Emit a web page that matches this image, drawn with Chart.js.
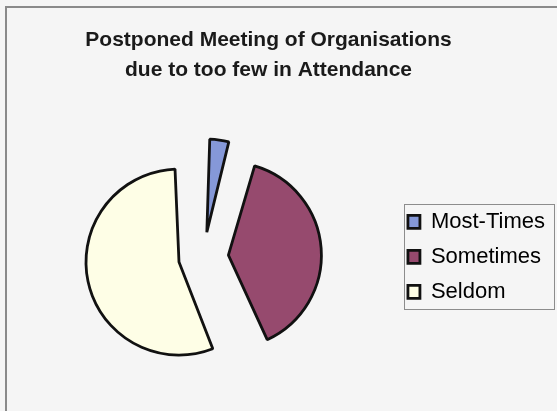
<!DOCTYPE html>
<html>
<head>
<meta charset="utf-8">
<title>Postponed Meeting of Organisations</title>
<script src="https://cdn.jsdelivr.net/npm/chart.js@4.4.0/dist/chart.umd.min.js"></script>
<style>
  html, body { margin: 0; padding: 0; background: #f5f5f5; }
</style>
</head>
<body>
<canvas id="myChart" width="557" height="411"></canvas>
<script>
  // data
  const categories = ['Most-Times', 'Sometimes', 'Seldom'];
  const shares = [4.3, 39.1, 56.6];
  const sliceColors = ['#8598d8', '#964a6e', '#fefee6'];
  const chartTitle = ['Postponed Meeting of Organisations', 'due to too few in Attendance'];

  const PIE_RADIUS = 93;
  const EXPLODE = 100;   // v4 arcs move by offset / 4

  // v4 also grows an exploded arc's radius, put it back so all slices match
  const evenRadius = {
    id: 'evenRadius',
    afterDatasetsUpdate(chart) {
      chart.getDatasetMeta(0).data.forEach(arc => {
        const shift = (arc.options.offset || 0) / 4;
        const fix = 1 - Math.sin(Math.min(Math.PI, arc.circumference));
        arc.outerRadius = PIE_RADIUS - shift * fix;
      });
    }
  };

  // empty box on the left, pushes the pie to the right of the title centre
  // (display:false keeps it out of the legend's max width share)
  const leftSpacer = {
    id: 'leftSpacer',
    beforeInit(chart) {
      Chart.layouts.addBox(chart, {
        position: 'left',
        fullSize: false,
        weight: 100,
        options: { display: false },
        isHorizontal() { return false; },
        update(maxWidth, maxHeight) { this.width = 30; this.height = maxHeight; },
        draw() {}
      });
    }
  };

  // grey page + frame lines
  const frame = {
    id: 'frame',
    beforeDraw(chart) {
      const ctx = chart.ctx;
      ctx.save();
      ctx.fillStyle = '#f5f5f5';
      ctx.fillRect(0, 0, chart.width, chart.height);
      ctx.strokeStyle = '#8a8a8a';
      ctx.lineWidth = 2;
      ctx.beginPath();
      ctx.moveTo(6, chart.height);
      ctx.lineTo(6, 7);
      ctx.lineTo(chart.width, 7);
      ctx.stroke();
      ctx.restore();
    },
    afterDraw(chart) {
      // box round the legend
      const boxes = chart.legend.legendHitBoxes;
      if (!boxes.length) return;
      const first = boxes[0];
      const last = boxes[boxes.length - 1];
      const ctx = chart.ctx;
      ctx.save();
      ctx.strokeStyle = '#8c8c8c';
      ctx.lineWidth = 1;
      const x0 = Math.round(first.left - 4) + 0.5;
      const y0 = Math.round(first.top - 7) + 0.5;
      const y1 = Math.round(last.top + last.height + 6) + 0.5;
      ctx.strokeRect(x0, y0, 150, y1 - y0);
      ctx.restore();
    }
  };

  const data = {
    labels: categories,
    datasets: [{
      data: shares,
      backgroundColor: sliceColors,
      borderColor: '#111111',
      borderWidth: 2.8,
      offset: EXPLODE
    }]
  };

  const config = {
    type: 'pie',
    data,
    options: {
      responsive: false,
      animation: false,
      devicePixelRatio: 1,
      radius: PIE_RADIUS,
      layout: {
        padding: { left: -18, right: 2, top: 0, bottom: 20 }
      },
      plugins: {
        title: {
          display: true,
          text: chartTitle,
          color: '#1a1a1a',
          font: { family: '"Liberation Sans", Arial, sans-serif', size: 21, weight: 'bold', lineHeight: 1.45 },
          padding: { top: 25, bottom: 37 }
        },
        legend: {
          position: 'right',
          fullSize: false,
          labels: {
            color: '#000000',
            font: { family: '"Liberation Sans", Arial, sans-serif', size: 22 },
            boxWidth: 12,
            boxHeight: 13,
            padding: 13
          }
        },
        tooltip: { enabled: false }
      }
    },
    plugins: [evenRadius, leftSpacer, frame]
  };

  const myChart = new Chart(document.getElementById('myChart'), config);
</script>
</body>
</html>
